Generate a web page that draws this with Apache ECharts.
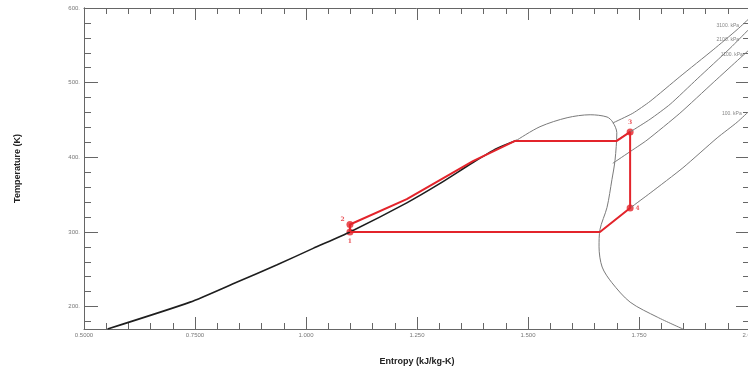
<!DOCTYPE html>
<html>
<head>
<meta charset="utf-8">
<script src="https://cdn.jsdelivr.net/npm/echarts@6/dist/echarts.min.js"></script>
<style>
  html, body { margin: 0; padding: 0; background: #fff; }
  #chart { width: 748px; height: 371px; }
</style>
</head>
<body>
<div id="chart"></div>
<script>
// saturated liquid line (dark) and rest of the dome (grey)
const liquidLine = [[0.553,170],[0.739,206],[0.845,233],[0.935,256],[1.016,278],[1.099,300],[1.227,339],[1.302,365],[1.376,393],[1.430,412],[1.475,423]];
const domeLine = [[1.475,423],[1.527,441],[1.588,453],[1.640,457],[1.678,454],[1.691,447],[1.700,433],[1.696,396],[1.689,370],[1.678,333],[1.662,303],[1.660,280],[1.667,253],[1.689,232],[1.730,206],[1.791,186],[1.849,170]];

// isobars in the superheated region
const isobar3100 = [[1.691,446],[1.736,459],[1.775,475],[1.842,508],[1.917,544],[1.971,571],[2.0,587]];
const isobar2100 = [[1.700,423],[1.730,434],[1.775,451],[1.820,471],[1.881,505],[1.955,546],[2.0,573]];
const isobar1100 = [[1.691,392],[1.736,410],[1.768,423],[1.842,459],[1.917,500],[2.0,545]];
const isobar100 = [[1.662,300],[1.730,332],[1.775,352],[1.849,386],[1.926,426],[1.971,447],[2.0,463]];
const isobarNames = ["3100. kPa", "2100. kPa", "1100. kPa", "100. kPa"];
const isobarLabelAt = [[1.950,576],[1.950,558],[1.959,538],[1.959,458]];

// cycle path: 1 -> 2 -> along liquid line -> boiling -> 3 -> 4 -> condensing -> 1
const cyclePath = [[1.099,300],[1.099,310],[1.227,344],[1.376,395],[1.471,422],[1.700,422],[1.730,434],[1.730,332],[1.662,300],[1.099,300]];
const stateNames = ["1", "2", "3", "4"];
const statePoints = [[1.099,300],[1.099,310],[1.730,434],[1.730,332]];

const xLabels = { 0.5: "0.5000", 0.75: "0.7500", 1: "1.000", 1.25: "1.250", 1.5: "1.500", 1.75: "1.750", 2: "2.000" };
const yMajor = [200, 300, 400, 500, 600];
const yMinor = [180, 220, 240, 260, 280, 320, 340, 360, 380, 420, 440, 460, 480, 520, 540, 560, 580];

const axisGrey = "#666";
const red = "#e3242b";

const chart = echarts.init(document.getElementById("chart"));

const xBase = {
  type: "value",
  min: 0.5,
  max: 2.0,
  interval: 0.25,
  axisLine: { show: true, lineStyle: { color: axisGrey, width: 1 } },
  axisTick: { show: true, inside: true, length: 12, lineStyle: { color: axisGrey } },
  minorTick: { show: true, splitNumber: 5, length: 6, lineStyle: { color: axisGrey } },
  splitLine: { show: false },
};

const yBase = {
  type: "value",
  min: 170,
  max: 600,
  splitLine: { show: false },
  axisLine: { show: true, lineStyle: { color: axisGrey, width: 1 } },
};

// label offsets for the state numbers
const stateLabelPos = ["bottom", [-6, -5], "top", [9, 1]];

const option = {
  animation: false,
  grid: { left: 84, right: -2, top: 8, bottom: 42, containLabel: false, outerBoundsMode: "none" },
  xAxis: [
    Object.assign({}, xBase, {
      position: "bottom",
      name: "Entropy (kJ/kg-K)",
      nameLocation: "middle",
      nameGap: 28,
      nameTextStyle: { fontFamily: "Liberation Sans", fontWeight: "bold", fontSize: 9, color: "#222" },
      axisLabel: {
        fontFamily: "Liberation Sans", fontSize: 6, color: "#777", margin: 3,
        formatter: (v) => xLabels[v] || String(v),
      },
    }),
    Object.assign({}, xBase, { position: "top", axisLabel: { show: false } }),
  ],
  yAxis: [
    Object.assign({}, yBase, {
      position: "left",
      name: "Temperature (K)",
      nameLocation: "middle",
      nameGap: 62,
      nameTextStyle: { fontFamily: "Liberation Sans", fontWeight: "bold", fontSize: 9, color: "#222" },
      axisTick: { show: true, inside: true, length: 14, customValues: yMajor, lineStyle: { color: axisGrey } },
      axisLabel: {
        fontFamily: "Liberation Sans", fontSize: 6, color: "#777", margin: 4,
        customValues: yMajor, formatter: (v) => v + ".",
      },
    }),
    Object.assign({}, yBase, {
      position: "left",
      axisTick: { show: true, inside: true, length: 7, customValues: yMinor, lineStyle: { color: axisGrey } },
      axisLabel: { show: false },
    }),
    Object.assign({}, yBase, {
      position: "right",
      axisTick: { show: true, inside: true, length: 14, customValues: yMajor, lineStyle: { color: axisGrey } },
      axisLabel: { show: false },
    }),
    Object.assign({}, yBase, {
      position: "right",
      axisTick: { show: true, inside: true, length: 7, customValues: yMinor, lineStyle: { color: axisGrey } },
      axisLabel: { show: false },
    }),
  ],
  series: [
    {
      type: "line", data: domeLine, showSymbol: false, smooth: 0.3,
      lineStyle: { color: "#7a7a7a", width: 1 },
    },
    ...[isobar3100, isobar2100, isobar1100, isobar100].map((d) => ({
      type: "line", data: d, showSymbol: false, smooth: 0.2,
      lineStyle: { color: "#7a7a7a", width: 1 },
    })),
    {
      type: "line", data: liquidLine, showSymbol: false, smooth: 0.2,
      lineStyle: { color: "#1e1e1e", width: 1.6 },
    },
    {
      type: "scatter", symbolSize: 0,
      data: isobarLabelAt.map((p, i) => ({ value: p, name: isobarNames[i] })),
      label: {
        show: true, position: "inside", formatter: (p) => p.name,
        fontFamily: "Liberation Sans", fontSize: 5, color: "#666",
      },
    },
    {
      type: "line", data: cyclePath, showSymbol: false,
      lineStyle: { color: red, width: 2 },
    },
    {
      type: "scatter", symbolSize: 7,
      itemStyle: { color: red },
      data: statePoints.map((p, i) => ({
        value: p, name: stateNames[i],
        label: { position: stateLabelPos[i] },
      })),
      label: {
        show: true, formatter: (p) => p.name, distance: 3,
        fontFamily: "DejaVu Serif", fontSize: 6, color: red, fontWeight: "bold",
      },
    },
  ],
};

chart.setOption(option);
</script>
</body>
</html>
